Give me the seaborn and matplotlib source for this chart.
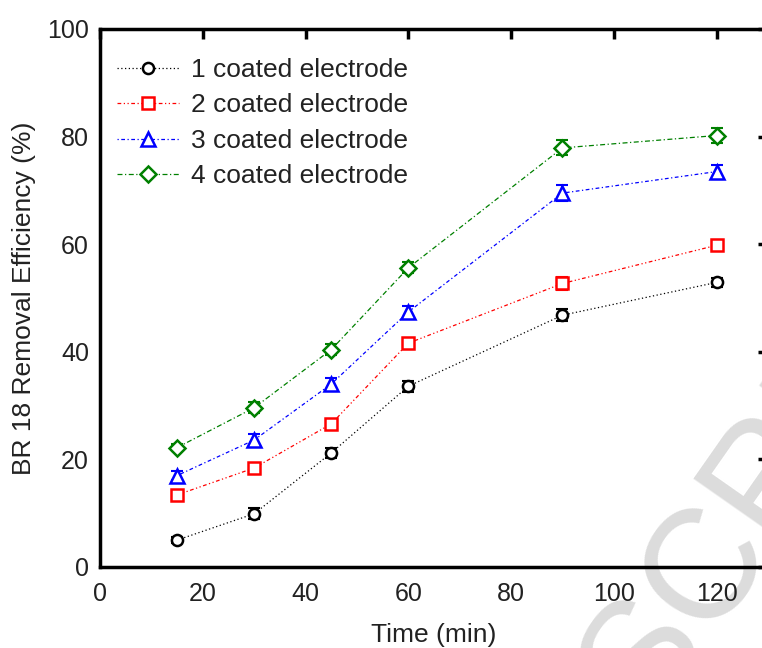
import matplotlib
matplotlib.use("Agg")
import matplotlib.pyplot as plt
import seaborn as sns
import pandas as pd

time_min = [15, 30, 45, 60, 90, 120]
labels = ["1 coated electrode", "2 coated electrode", "3 coated electrode", "4 coated electrode"]
e1 = [5.0, 9.9, 21.2, 33.6, 46.8, 52.9]
e2 = [13.4, 18.4, 26.6, 41.6, 52.7, 59.8]
e3 = [17.0, 23.6, 34.0, 47.4, 69.5, 73.5]
e4 = [22.2, 29.6, 40.4, 55.6, 77.9, 80.2]
err1 = [0.6, 1.0, 0.9, 1.0, 1.1, 0.9]
err2 = [0.6, 0.8, 0.8, 1.0, 1.2, 0.9]
err3 = [0.8, 1.2, 1.2, 1.2, 1.5, 1.3]
err4 = [0.7, 1.0, 1.0, 1.0, 1.4, 1.4]
colors = ["black", "red", "blue", "green"]
markers = ["o", "s", "^", "D"]
msizes = [8, 8.5, 9.5, 8.5]
linestyles = [(0, (1, 2)), (0, (3, 2, 1, 2, 1, 2)), (0, (1, 2, 3, 2)), (0, (4, 2, 1, 2))]
watermark = "MANUSCRIPT"

sns.set_theme(style="white")
plt.rcParams['font.family'] = ['Liberation Sans', 'DejaVu Sans']

fig = plt.figure(figsize=(7.62, 6.48), dpi=100)
fig.text(0.89, -0.035, watermark, fontsize=112, fontweight="normal", color="#dcdcdc",
         rotation=55, rotation_mode="anchor", ha="center", va="baseline", zorder=-5)
ax = fig.add_axes([100/762, (648-567)/648, (768-100)/762, (567-29)/648])
ax.patch.set_alpha(0)

series = [e1, e2, e3, e4]
errs = [err1, err2, err3, err4]
for lab, ys, er, c, m, ms, ls in zip(labels, series, errs, colors, markers, msizes, linestyles):
    df = pd.DataFrame({"Time": time_min, "Eff": ys})
    ax.errorbar(time_min, ys, yerr=er, fmt="none", ecolor=c, elinewidth=1.5, capsize=4, capthick=1.5, zorder=3)
    sns.lineplot(data=df, x="Time", y="Eff", ax=ax, color=c, marker=m, markersize=ms,
                 markerfacecolor="white", markeredgecolor=c, markeredgewidth=1.8,
                 linestyle=ls, linewidth=0.9, label=lab, zorder=4)

ax.set_xlim(0, 130)
ax.set_ylim(0, 100)
ax.set_xticks([0, 20, 40, 60, 80, 100, 120])
ax.set_yticks([0, 20, 40, 60, 80, 100])
ax.set_xlabel("Time (min)", fontsize=19, labelpad=12, color="#222222")
ax.set_ylabel("BR 18 Removal Efficiency (%)", fontsize=19, labelpad=8, color="#222222")
ax.tick_params(direction="in", length=7, width=2.5, labelsize=18, top=True, right=True,
               colors="black", labelcolor="#222222")
ax.tick_params(axis="x", labeltop=False, pad=11)
ax.tick_params(axis="y", pad=8)
for sp in ax.spines.values():
    sp.set_linewidth(2.5)
    sp.set_color("black")

leg = ax.legend(loc="upper left", frameon=False, fontsize=19, handlelength=2.35,
                handletextpad=0.45, labelspacing=0.43, borderaxespad=0, borderpad=0,
                bbox_to_anchor=(0.0255, 0.946))
for t in leg.get_texts():
    t.set_color("#222222")

fig.savefig("out.png", dpi=100)
